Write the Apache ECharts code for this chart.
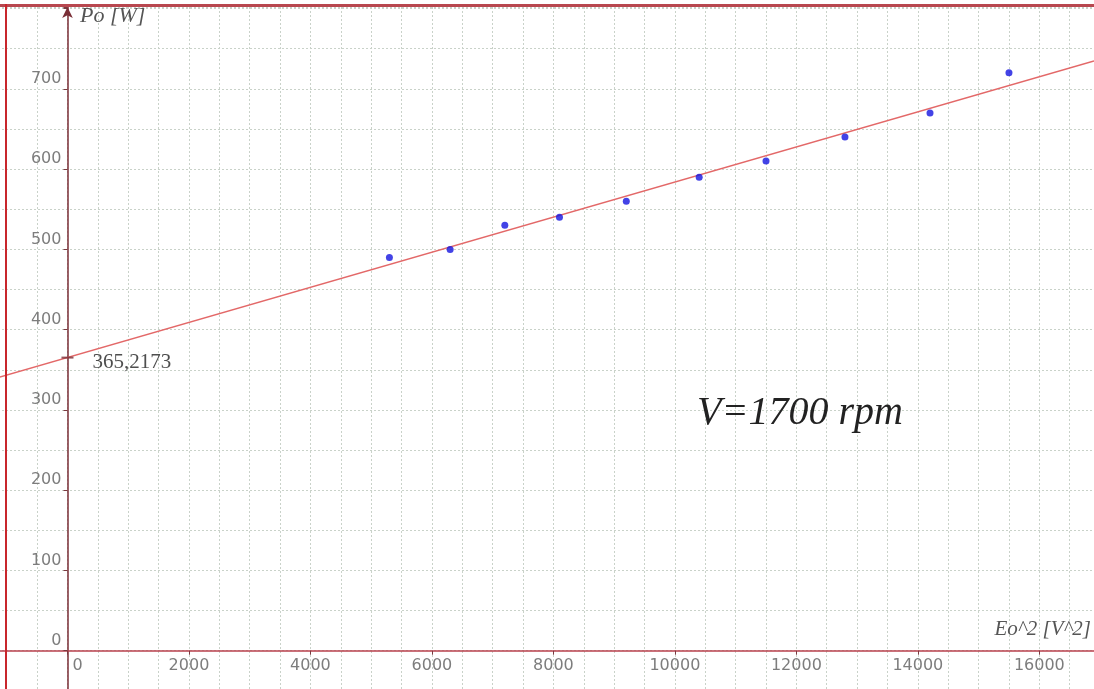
<!DOCTYPE html>
<html>
<head>
<meta charset="utf-8">
<script src="https://cdn.jsdelivr.net/npm/echarts@6/dist/echarts.min.js"></script>
<style>
html,body{margin:0;padding:0;background:#fff;}
#chart{width:1094px;height:689px;}
</style>
</head>
<body>
<div id="chart"></div>
<script>
// Data
var eo2Values = [5300, 6300, 7200, 8100, 9200, 10400, 11500, 12800, 14200, 15500];
var poValues  = [490, 500, 530, 540, 560, 590, 610, 640, 670, 720];
var fitIntercept = 365.2173;
var fitSlope = 0.02187;
var xAxisName = 'Eo^2 [V^2]';
var yAxisName = 'Po [W]';
var annotation = 'V=1700 rpm';

var X_MIN = -2000, X_MAX = 16900, Y_MIN = -100, Y_MAX = 802;
var GRID = {left: -54, right: 0, top: 7, bottom: -42, W: 1094, H: 689};

var points = eo2Values.map(function (x, i) { return [x, poValues[i]]; });
var fitLine = [X_MIN, X_MAX].map(function (x) { return [x, fitIntercept + fitSlope * x]; });

// offsets so the axes (line, ticks, labels) sit on the zero lines
var gw = GRID.W - GRID.right - GRID.left, gh = GRID.H - GRID.bottom - GRID.top;
var xAxisOffset = -(0 - Y_MIN) / (Y_MAX - Y_MIN) * gh;
var yAxisOffset = -(0 - X_MIN) / (X_MAX - X_MIN) * gw;

var chart = echarts.init(document.getElementById('chart'), null, {renderer: 'canvas'});
var gridStyle = {color: '#c9d2c9', width: 1, type: [2, 2]};
var labelFont = {color: '#7d7d7d', fontFamily: 'DejaVu Sans', fontSize: 16};

chart.setOption({
  backgroundColor: '#ffffff',
  animation: false,
  grid: {left: GRID.left, right: GRID.right, top: GRID.top, bottom: GRID.bottom, containLabel: false, outerBoundsMode: 'none'},
  xAxis: {
    type: 'value', min: X_MIN, max: X_MAX, interval: 2000, offset: xAxisOffset,
    axisLine: {onZero: false, lineStyle: {color: '#b8404c', width: 1.5}},
    axisTick: {show: true, length: 4, inside: false, lineStyle: {color: '#7a3a40'}},
    minorTick: {show: true, splitNumber: 4, length: 0},
    splitLine: {show: true, lineStyle: gridStyle},
    minorSplitLine: {show: true, lineStyle: gridStyle},
    axisLabel: Object.assign({
      margin: 7,
      formatter: function (v) {
        if (v < 0 || v > 16000) return '';
        if (v === 0) return '{z|0}';
        return String(v);
      },
      rich: {z: {padding: [0, 0, 0, 20], color: '#7d7d7d', fontFamily: 'DejaVu Sans', fontSize: 16}}
    }, labelFont)
  },
  yAxis: {
    type: 'value', min: Y_MIN, max: Y_MAX, interval: 100, offset: yAxisOffset,
    axisLine: {onZero: false, symbol: ['none', 'arrow'], symbolSize: [8, 11], lineStyle: {color: '#7a2e36', width: 1.5}},
    axisTick: {show: true, length: 4, inside: false, lineStyle: {color: '#7a3a40'}},
    minorTick: {show: true, splitNumber: 2, length: 0},
    splitLine: {show: true, lineStyle: gridStyle},
    minorSplitLine: {show: true, lineStyle: gridStyle},
    axisLabel: Object.assign({
      margin: 6,
      verticalAlign: 'bottom',
      lineHeight: 20,
      formatter: function (v) {
        if (v < 0 || v > 750) return '';
        return String(v);
      }
    }, labelFont)
  },
  series: [
    {
      type: 'line', data: fitLine, showSymbol: false, symbol: 'none',
      lineStyle: {color: '#e36868', width: 1.5}, z: 3, clip: true
    },
    {
      type: 'scatter', data: points, symbol: 'circle', symbolSize: 7,
      itemStyle: {color: '#1414e0'}, z: 4
    },
    {
      type: 'scatter', data: [[0, fitIntercept]], symbol: 'rect', symbolSize: [12, 2],
      itemStyle: {color: '#7a2e36'}, z: 5,
      label: {
        show: true, position: [31, 6], align: 'left', verticalAlign: 'middle',
        formatter: function () { return fitIntercept.toFixed(4).replace('.', ','); },
        fontFamily: 'Liberation Serif', fontSize: 21, color: '#222222'
      }
    }
  ],
  graphic: [
    {type: 'rect', shape: {x: 0, y: 4, width: 1094, height: 3}, style: {fill: '#b8474f'}, z: 100},
    {type: 'rect', shape: {x: 5, y: 4, width: 2, height: 685}, style: {fill: '#c8262c'}, z: 100},
    {type: 'text', left: 80, top: 5, z: 100,
      style: {text: yAxisName, fontFamily: 'Liberation Serif', fontStyle: 'italic', fontSize: 22, fill: '#555555'}},
    {type: 'text', right: 3, top: 619, z: 100,
      style: {text: xAxisName, fontFamily: 'Liberation Serif', fontStyle: 'italic', fontSize: 21, fill: '#555555'}},
    {type: 'text', left: 697, top: 393, z: 100,
      style: {text: annotation, fontFamily: 'Liberation Serif', fontStyle: 'italic', fontSize: 40, fill: '#222222'}}
  ]
});
</script>
</body>
</html>
